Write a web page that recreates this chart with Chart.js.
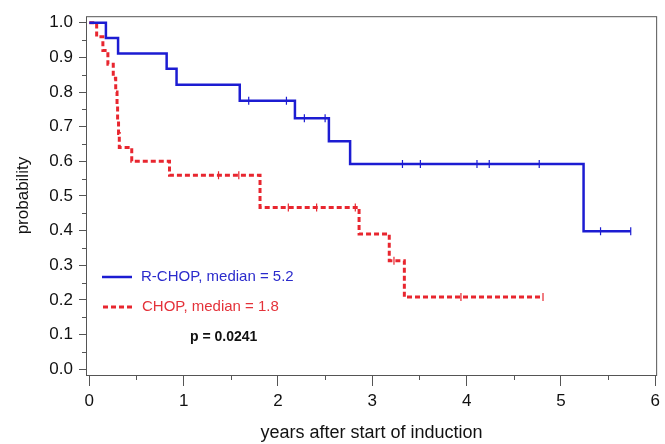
<!DOCTYPE html>
<html><head><meta charset="utf-8">
<script src="https://cdn.jsdelivr.net/npm/chart.js@4.4.0/dist/chart.umd.min.js"></script>
<style>html,body{margin:0;padding:0;background:#fff}#wrap{width:665px;height:444px}</style>
</head><body><div id="wrap"><canvas id="c" width="665" height="444"></canvas></div>
<script>
const xTicks = [0, 1, 2, 3, 4, 5, 6];
const xMinorTicks = [0.5, 1.5, 2.5, 3.5, 4.5, 5.5];
const yTicks = [0, 0.1, 0.2, 0.3, 0.4, 0.5, 0.6, 0.7, 0.8, 0.9, 1.0];
const yMinorTicks = [0.05, 0.15, 0.25, 0.35, 0.45, 0.55, 0.65, 0.75, 0.85, 0.95];

const rchopTimes = [0, 0.176, 0.305, 0.82, 0.925, 1.595, 2.18, 2.54, 2.765, 5.24, 5.74];
const rchopSurv  = [1, 0.956, 0.911, 0.867, 0.821, 0.775, 0.724, 0.658, 0.592, 0.398, 0.398];
const rchopCensorTimes = [1.69, 2.09, 2.28, 2.50, 3.32, 3.51, 4.11, 4.24, 4.77, 5.42, 5.74];
const rchopCensorSurv  = [0.775, 0.775, 0.724, 0.724, 0.592, 0.592, 0.592, 0.592, 0.592, 0.398, 0.398];

const chopTimes = [0, 0.078, 0.144, 0.197, 0.254, 0.28, 0.294, 0.30, 0.31, 0.318, 0.45, 0.85, 1.81, 2.86, 3.18, 3.34, 4.81];
const chopSurv  = [1, 0.96, 0.92, 0.88, 0.84, 0.80, 0.76, 0.72, 0.68, 0.64, 0.60, 0.56, 0.467, 0.39, 0.313, 0.208, 0.208];
const chopCensorTimes = [1.37, 1.585, 2.11, 2.41, 2.82, 3.23, 3.94, 4.81];
const chopCensorSurv  = [0.56, 0.56, 0.467, 0.467, 0.467, 0.313, 0.208, 0.208];

const legendLabels = ['R-CHOP, median = 5.2', 'CHOP, median = 1.8'];
const pValueText = 'p = 0.0241';
const xTitle = 'years after start of induction';
const yTitle = 'probability';

const BLUE = '#1c1cd2';
const RED = '#e8262f';
const FONT = "'Liberation Sans', Arial, sans-serif";

const pts = (xs, ys) => xs.map((x, i) => ({x: x, y: ys[i]}));

const decor = {
  id: 'decor',
  beforeDatasetsDraw(chart) {
    const ctx = chart.ctx, a = chart.chartArea;
    const xs = chart.scales.x, ys = chart.scales.y;
    ctx.save();
    ctx.strokeStyle = '#555';
    ctx.lineWidth = 1;
    ctx.strokeRect(a.left + 0.5, a.top + 0.5, a.right - a.left - 1, a.bottom - a.top);
    ctx.beginPath();
    xMinorTicks.forEach(v => {
      const px = Math.round(xs.getPixelForValue(v)) + 0.5;
      ctx.moveTo(px, a.bottom); ctx.lineTo(px, a.bottom + 5);
    });
    yMinorTicks.forEach(v => {
      const py = Math.round(ys.getPixelForValue(v)) + 0.5;
      ctx.moveTo(a.left, py); ctx.lineTo(a.left - 4, py);
    });
    ctx.stroke();
    ctx.restore();
  },
  afterDraw(chart) {
    const ctx = chart.ctx;
    ctx.save();
    ctx.textBaseline = 'middle';
    ctx.textAlign = 'left';
    ctx.font = '15px ' + FONT;
    ctx.strokeStyle = BLUE; ctx.lineWidth = 2.5;
    ctx.beginPath(); ctx.moveTo(102, 277); ctx.lineTo(132, 277); ctx.stroke();
    ctx.fillStyle = '#2b2bcc';
    ctx.fillText(legendLabels[0], 141, 277);
    ctx.strokeStyle = RED; ctx.lineWidth = 3; ctx.setLineDash([5, 3]);
    ctx.beginPath(); ctx.moveTo(103, 307); ctx.lineTo(132, 307); ctx.stroke();
    ctx.setLineDash([]);
    ctx.fillStyle = '#e4323a';
    ctx.fillText(legendLabels[1], 142, 307);
    ctx.fillStyle = '#111';
    ctx.font = 'bold 14px ' + FONT;
    ctx.fillText(pValueText, 190, 337);
    ctx.restore();
  }
};

new Chart(document.getElementById('c'), {
  type: 'line',
  data: {
    datasets: [
      {label: 'R-CHOP', data: pts(rchopTimes, rchopSurv), stepped: 'before',
       borderColor: BLUE, borderWidth: 2.5, pointRadius: 0, fill: false},
      {label: 'CHOP', data: pts(chopTimes, chopSurv), stepped: 'before',
       borderColor: RED, borderWidth: 3, borderDash: [5, 3], pointRadius: 0, fill: false},
      {type: 'scatter', label: 'R-CHOP censored', data: pts(rchopCensorTimes, rchopCensorSurv),
       pointStyle: 'line', rotation: 90, radius: 4, borderWidth: 1.2, borderColor: BLUE, backgroundColor: BLUE},
      {type: 'scatter', label: 'CHOP censored', data: pts(chopCensorTimes, chopCensorSurv),
       pointStyle: 'line', rotation: 90, radius: 4, borderWidth: 1.2, borderColor: RED, backgroundColor: RED}
    ]
  },
  options: {
    responsive: false,
    animation: false,
    devicePixelRatio: 1,
    layout: {padding: {left: 9, top: 15, right: 3, bottom: 0}},
    plugins: {legend: {display: false}, tooltip: {enabled: false}},
    scales: {
      x: {
        type: 'linear', min: -0.035, max: 6.02,
        afterBuildTicks: s => { s.ticks = xTicks.map(v => ({value: v})); },
        afterFit: s => { s.height = 69; },
        grid: {drawOnChartArea: false, tickLength: 11, color: '#555', lineWidth: 1},
        border: {display: false},
        ticks: {font: {family: FONT, size: 17}, color: '#111', padding: 5, maxRotation: 0,
                callback: v => String(v)},
        title: {display: true, text: xTitle, font: {family: FONT, size: 18}, color: '#111',
                padding: {top: 0, bottom: 0}}
      },
      y: {
        type: 'linear', min: -0.017, max: 1.019,
        afterBuildTicks: s => { s.ticks = yTicks.map(v => ({value: v})); },
        afterFit: s => { s.width = 77; },
        grid: {drawOnChartArea: false, tickLength: 7, color: '#555', lineWidth: 1},
        border: {display: false},
        ticks: {font: {family: FONT, size: 17}, color: '#111', padding: 6,
                callback: v => v.toFixed(1)},
        title: {display: true, text: yTitle, font: {family: FONT, size: 17}, color: '#111',
                padding: {top: 4, bottom: 4}}
      }
    }
  },
  plugins: [decor]
});
</script>
</body></html>
